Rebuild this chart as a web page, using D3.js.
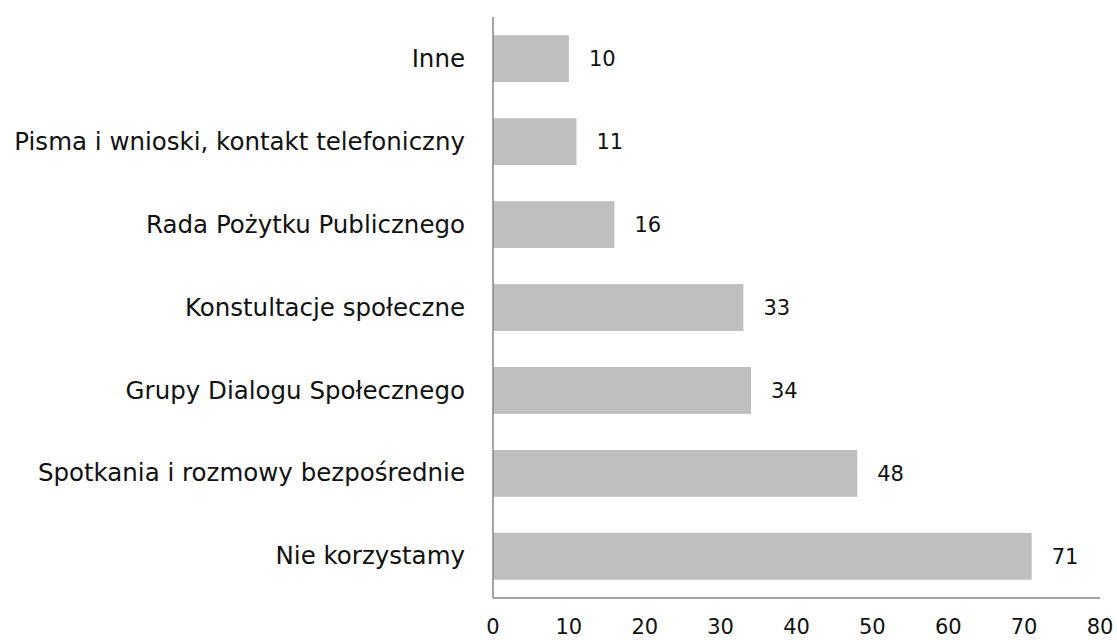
<!DOCTYPE html>
<html><head><meta charset="utf-8">
<script src="https://cdn.jsdelivr.net/npm/d3@7"></script>
<style>body{margin:0;background:#fff}svg{display:block}text{font-family:"DejaVu Sans",sans-serif;fill:#111}</style>
</head><body>
<svg id="c" width="1117" height="640"></svg>
<script>
const categories = ["Inne","Pisma i wnioski, kontakt telefoniczny","Rada Pożytku Publicznego","Konstultacje społeczne","Grupy Dialogu Społecznego","Spotkania i rozmowy bezpośrednie","Nie korzystamy"];
const values = [10,11,16,33,34,48,71];
const tickValues = [0,10,20,30,40,50,60,70,80];

const svg = d3.select("#c");
const x = d3.scaleLinear().domain([0,80]).range([493,1100]);
const y = d3.scaleBand().domain(categories).range([17,598]).paddingInner(0.435).paddingOuter(0.22);

svg.selectAll("rect.bar").data(categories).join("rect")
  .attr("class","bar")
  .attr("x", x(0)).attr("y", d => y(d))
  .attr("width", (d,i) => x(values[i]) - x(0))
  .attr("height", y.bandwidth())
  .attr("fill","#bfbfbf");

svg.selectAll("text.val").data(categories).join("text")
  .attr("class","val")
  .attr("x", (d,i) => x(values[i]) + 20)
  .attr("y", d => y(d) + y.bandwidth()/2)
  .attr("dy","0.35em")
  .style("font-size","21px")
  .text((d,i) => values[i]);

const cats = svg.selectAll("text.cat").data(categories).join("text")
  .attr("class","cat")
  .attr("x", 465)
  .attr("y", d => y(d) + y.bandwidth()/2)
  .attr("dy","0.33em")
  .attr("text-anchor","end")
  .style("font-size","22px")
  .text(d => d);
// fit longest label to the reference width (~455px)
const longest = cats.filter((d,i) => i === 1).node().getComputedTextLength();
const fs = Math.min(24.5, 22 * 455 / longest);
cats.style("font-size", fs + "px");

// axes lines
svg.append("line").attr("x1",x(0)).attr("x2",x(0)).attr("y1",17).attr("y2",598).attr("stroke","#868686").attr("stroke-width",1.5);
svg.append("line").attr("x1",x(0)).attr("x2",x(80)).attr("y1",598).attr("y2",598).attr("stroke","#868686").attr("stroke-width",1.5);

svg.selectAll("text.tick").data(tickValues).join("text")
  .attr("class","tick")
  .attr("x", d => x(d))
  .attr("y", 634)
  .attr("text-anchor","middle")
  .style("font-size","21px")
  .text(d => d);
</script>
</body></html>
